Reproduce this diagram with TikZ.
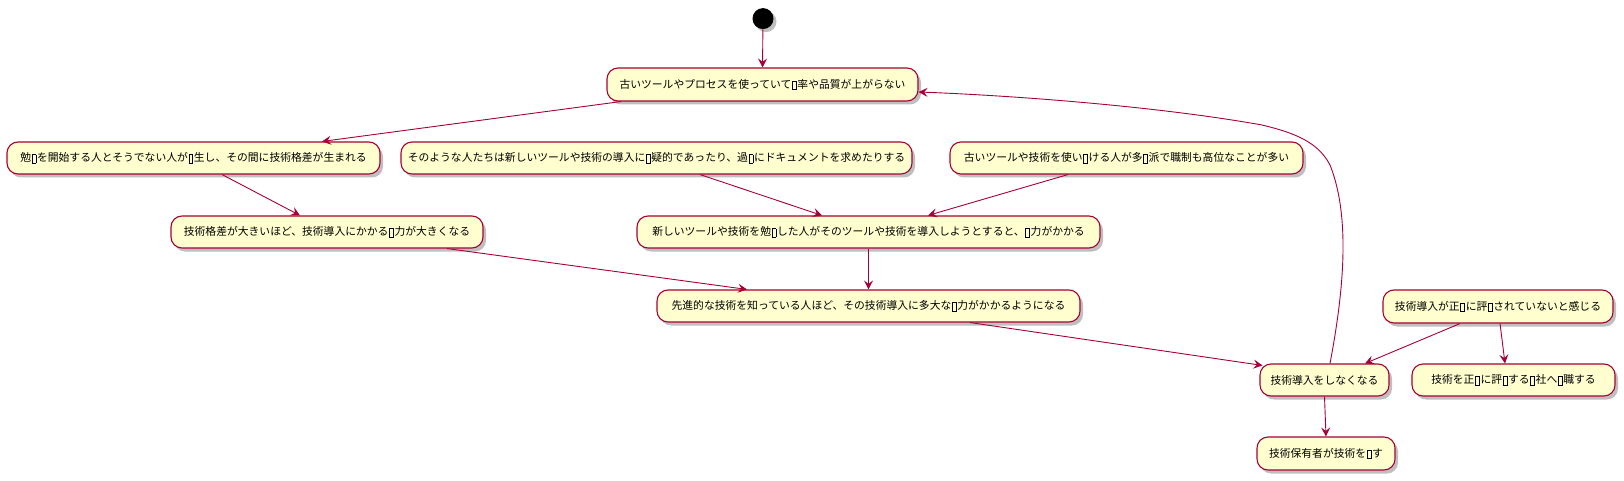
\documentclass[tikz,border=0pt]{standalone}
\usepackage{fontspec}
\newfontfamily\jpfont{Noto Sans CJK JP}
\usetikzlibrary{arrows.meta,shadows,calc}
\definecolor{edgec}{HTML}{A80036}
\definecolor{actfill}{HTML}{FEFECE}
\newcommand\tofubox{\kern0.6pt\raisebox{-1.2pt}{\setlength\fboxsep{0pt}\setlength\fboxrule{0.9pt}\fbox{\rule{0pt}{7.6pt}\rule{3pt}{0pt}}}\kern0.6pt}
\tikzset{
  act/.style={draw=edgec, fill=actfill, line width=1.1pt, rounded corners=11pt,
    minimum height=32pt, inner sep=0pt, text=black,
    font=\jpfont\fontsize{10.8}{12}\selectfont,
    drop shadow={shadow xshift=3pt, shadow yshift=-3.5pt, fill=black, opacity=0.25}},
  flow/.style={draw=edgec, line width=0.9pt, -{Stealth[length=9pt,width=9pt,inset=3.5pt]}},
  startdot/.style={circle, fill=black, minimum size=21pt, inner sep=0pt,
    drop shadow={shadow xshift=3pt, shadow yshift=-3pt, fill=black, opacity=0.25}}
}
\begin{document}
\begin{tikzpicture}[x=1pt,y=-1pt]
\useasboundingbox (0,0) rectangle (1624,481);
\node[startdot] (S) at (763,18.6) {};
\node[act, minimum width=311pt, minimum height=33pt] (A) at (762.5,84.5) {古いツールやプロセスを使っていて\tofubox 率や品質が上がらない};
\node[act, minimum width=373pt] (B) at (193.5,158) {勉\tofubox を開始する人とそうでない人が\tofubox 生し、その間に技術格差が生まれる};
\node[act, minimum width=511pt] (C) at (656.5,158) {そのような人たちは新しいツールや技術の導入に\tofubox 疑的であったり、過\tofubox にドキュメントを求めたりする};
\node[act, minimum width=353pt] (D) at (1126.5,158) {古いツールや技術を使い\tofubox ける人が多\tofubox 派で職制も高位なことが多い};
\node[act, minimum width=312pt] (E) at (327,232) {技術格差が大きいほど、技術導入にかかる\tofubox 力が大きくなる};
\node[act, minimum width=463pt] (F) at (868.5,232) {新しいツールや技術を勉\tofubox した人がそのツールや技術を導入しようとすると、\tofubox 力がかかる};
\node[act, minimum width=423pt] (G) at (868.5,306) {先進的な技術を知っている人ほど、その技術導入に多大な\tofubox 力がかかるようになる};
\node[act, minimum width=230pt, minimum height=33pt] (H) at (1498,306.5) {技術導入が正\tofubox に評\tofubox されていないと感じる};
\node[act, minimum width=129pt] (I) at (1324.5,380) {技術導入をしなくなる};
\node[act, minimum width=203pt] (J) at (1513.5,380) {技術を正\tofubox に評\tofubox する\tofubox 社へ\tofubox 職する};
\node[act, minimum width=138pt, minimum height=33pt] (K) at (1326,453.5) {技術保有者が技術を\tofubox す};

\draw[flow] (S) -- (A.north);
\draw[flow] ([xshift=-141.5pt]A.south) -- ([xshift=128.5pt]B.north);
\draw[flow] ([xshift=28.5pt]B.south) -- ([xshift=-27pt]E.north);
\draw[flow] ([xshift=43.5pt]C.south) -- ([xshift=-46.5pt]F.north);
\draw[flow] ([xshift=-58.5pt]D.south) -- ([xshift=59.5pt]F.north);
\draw[flow] ([xshift=120pt]E.south) -- ([xshift=-121.5pt]G.north);
\draw[flow] (F.south) -- (G.north);
\draw[flow] ([xshift=101.5pt]G.south) -- ([xshift=-62pt,yshift=-2pt]I.north);
\draw[flow] ([xshift=-38pt]H.south) -- ([xshift=40.5pt]I.north);
\draw[flow] ([xshift=2pt]H.south) -- ([xshift=-8.5pt]J.north);
\draw[flow] (I.south) -- (K.north);
\coordinate (L1) at (1330,165);
\coordinate (L2) at (1262,125);
\draw[flow] ([xshift=5.5pt]I.north) .. controls (1342,300) and (1352,220) .. (L1)
  .. controls (1318,142) and (1295,133) .. (L2)
  .. controls (1150,105) and (1000,95) .. ([yshift=-7.5pt]A.east);
\end{tikzpicture}
\end{document}
